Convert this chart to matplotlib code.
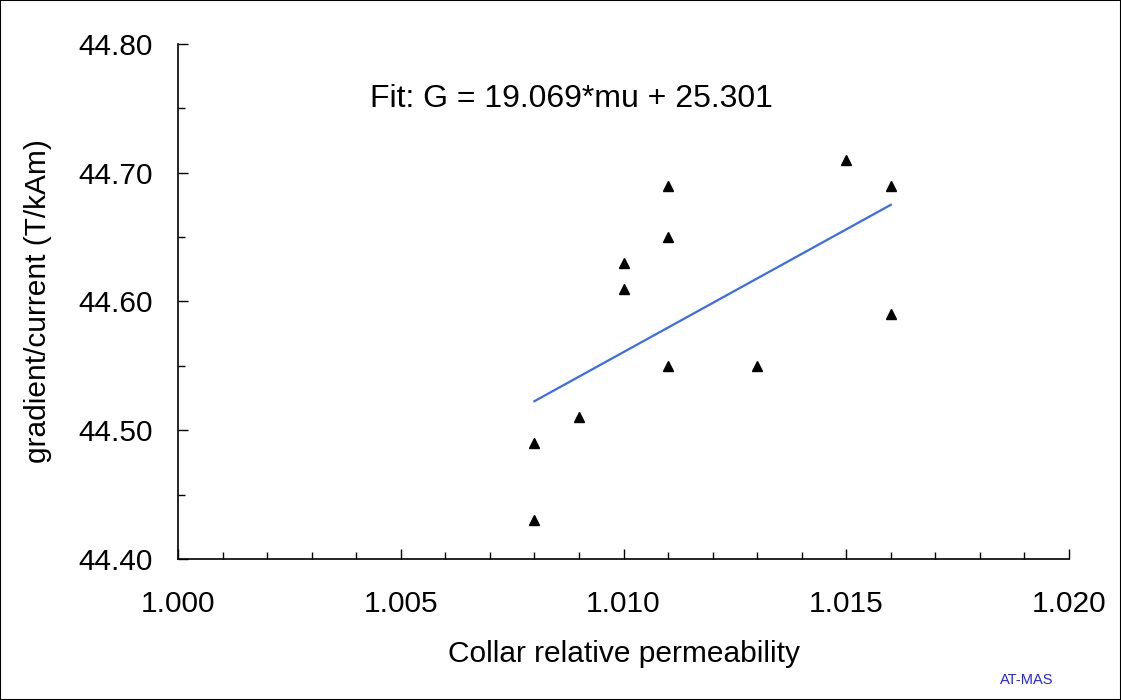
import matplotlib
matplotlib.use("Agg")
import matplotlib.pyplot as plt
from matplotlib.ticker import MultipleLocator, FormatStrFormatter
from matplotlib.patches import Rectangle

plt.rcParams['font.family'] = ['Liberation Sans', 'DejaVu Sans']

# Data
mu = [1.008, 1.008, 1.009, 1.010, 1.010, 1.011, 1.011, 1.011, 1.013, 1.015, 1.016, 1.016]
grad = [44.43, 44.49, 44.51, 44.61, 44.63, 44.55, 44.65, 44.69, 44.55, 44.71, 44.69, 44.59]
fit_slope = 19.069
fit_intercept = 25.301
fit_label = "Fit: G = 19.069*mu + 25.301"
x_label = "Collar relative permeability"
y_label = "gradient/current (T/kAm)"

fig = plt.figure(figsize=(11.21, 7.0), dpi=100)
ax = fig.add_axes([178/1121, 1-559/700, (1069-178)/1121, (559-44)/700])

ax.plot(mu, grad, linestyle='none', marker='^', color='black', markersize=7)
fx = [min(mu), max(mu)]
fy = [fit_slope * v + fit_intercept for v in fx]
ax.plot(fx, fy, color='#3a6cf0', linewidth=1.6)

ax.set_xlim(1.000, 1.020)
ax.set_ylim(44.40, 44.80)
ax.xaxis.set_major_locator(MultipleLocator(0.005))
ax.xaxis.set_minor_locator(MultipleLocator(0.001))
ax.yaxis.set_major_locator(MultipleLocator(0.1))
ax.yaxis.set_minor_locator(MultipleLocator(0.05))
ax.xaxis.set_major_formatter(FormatStrFormatter('%.3f'))
ax.yaxis.set_major_formatter(FormatStrFormatter('%.2f'))

for s in ['top', 'right']:
    ax.spines[s].set_visible(False)
for s in ['left', 'bottom']:
    ax.spines[s].set_linewidth(1.2)

fs = 21.5
ax.tick_params(axis='both', which='both', direction='in', width=1.0, labelsize=fs)
ax.tick_params(axis='x', which='major', length=7, pad=22)
ax.tick_params(axis='x', which='minor', length=5)
ax.tick_params(axis='y', which='major', length=7, pad=18)
ax.tick_params(axis='y', which='minor', length=5)

ax.set_xlabel(x_label, fontsize=fs, labelpad=16)
ax.set_ylabel(y_label, fontsize=fs, labelpad=19)

ax.text(1.00431, 44.757, fit_label, fontsize=23, va='center', ha='left')

fig.text(1027/1121, 1-680/700, "AT-MAS", fontsize=10.5, color='#2222ff', ha='center', va='center')

fig.patches.append(Rectangle((0, 0), 1, 1, transform=fig.transFigure, fill=False,
                             edgecolor='black', linewidth=1.5))

fig.savefig('out.png', dpi=100)
